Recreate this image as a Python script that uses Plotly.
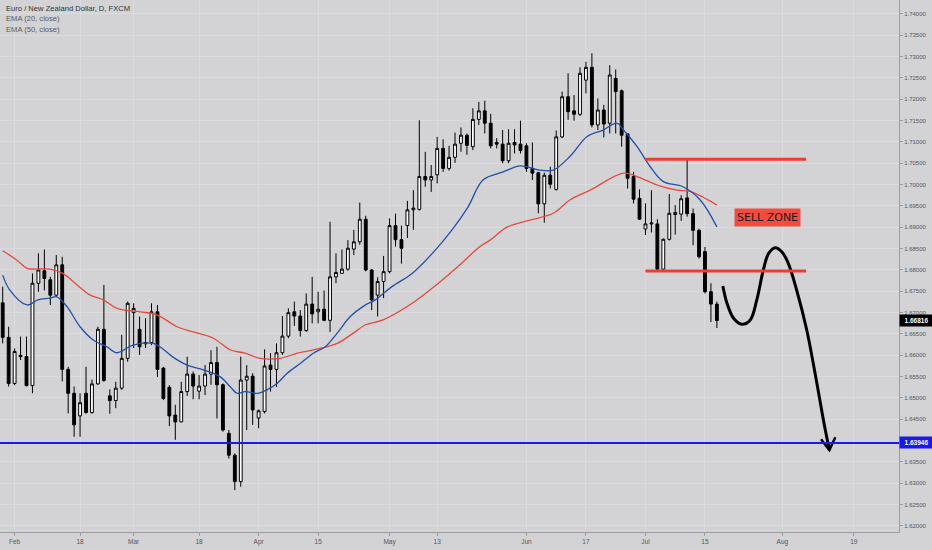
import numpy as np
import pandas as pd
import plotly.graph_objects as go

# ---------------- data ----------------
start_date = "2019-01-30"
open_ = [1.6723,1.6642,1.6534,1.6600,1.6597,1.6529,1.6769,1.6798,1.6777,1.6741,
         1.6812,1.6567,1.6511,1.6458,1.6511,1.6466,1.6533,1.6661,1.6505,1.6494,
         1.6523,1.6593,1.6700,1.6661,1.6627,1.6630,1.6702,1.6570,1.6525,1.6460,
         1.6444,1.6515,1.6556,1.6516,1.6528,1.6556,1.6583,1.6531,1.6417,1.6366,
         1.6304,1.6542,1.6551,1.6453,1.6468,1.6577,1.6567,1.6606,1.6645,1.6702,
         1.6692,1.6658,1.6720,1.6702,1.6708,1.6682,1.6784,1.6792,1.6802,1.6849,
         1.6866,1.6919,1.6800,1.6741,1.6773,1.6796,1.6904,1.6871,1.6904,1.6941,
         1.6942,1.7019,1.7011,1.7023,1.7085,1.7038,1.7064,1.7097,1.7116,1.7089,
         1.7153,1.7173,1.7144,1.7099,1.7095,1.7056,1.7099,1.7095,1.7091,1.7038,
         1.7028,1.6955,1.7022,1.6989,1.7112,1.7206,1.7173,1.7165,1.7245,1.7275,
         1.7140,1.7175,1.7144,1.7249,1.7220,1.7119,1.7019,1.6968,1.6896,1.6908,
         1.6908,1.6802,1.6872,1.6930,1.6931,1.6969,1.6932,1.6893,1.6843,1.6749,
         1.6720]
high_ = [1.6761,1.6667,1.6616,1.6644,1.6644,1.6792,1.6839,1.6848,1.6784,1.6835,
         1.6831,1.6573,1.6527,1.6511,1.6573,1.6543,1.6667,1.6765,1.6520,1.6538,
         1.6648,1.6726,1.6722,1.6691,1.6687,1.6722,1.6718,1.6573,1.6530,1.6484,
         1.6538,1.6597,1.6562,1.6554,1.6577,1.6612,1.6620,1.6534,1.6425,1.6370,
         1.6597,1.6577,1.6558,1.6473,1.6614,1.6605,1.6628,1.6692,1.6710,1.6726,
         1.6706,1.6745,1.6784,1.6749,1.6752,1.6913,1.6839,1.6848,1.6870,1.6894,
         1.6958,1.6927,1.6802,1.6783,1.6833,1.6921,1.6932,1.6904,1.6962,1.6987,
         1.7151,1.7077,1.7046,1.7112,1.7106,1.7091,1.7122,1.7134,1.7120,1.7179,
         1.7194,1.7197,1.7166,1.7109,1.7128,1.7130,1.7130,1.7150,1.7097,1.7099,
         1.7030,1.7028,1.7042,1.7127,1.7218,1.7261,1.7210,1.7275,1.7288,1.7308,
         1.7202,1.7187,1.7280,1.7270,1.7223,1.7120,1.7030,1.6989,1.6956,1.6987,
         1.6919,1.6874,1.6978,1.6952,1.6975,1.7061,1.6944,1.6897,1.6854,1.6769,
         1.6726]
low_ = [1.6628,1.6527,1.6530,1.6589,1.6527,1.6511,1.6749,1.6752,1.6718,1.6737,
        1.6539,1.6464,1.6409,1.6409,1.6463,1.6463,1.6531,1.6538,1.6463,1.6476,
        1.6519,1.6585,1.6617,1.6601,1.6617,1.6624,1.6549,1.6495,1.6434,1.6402,
        1.6443,1.6505,1.6497,1.6497,1.6507,1.6531,1.6452,1.6421,1.6358,1.6284,
        1.6292,1.6425,1.6437,1.6429,1.6464,1.6515,1.6526,1.6601,1.6640,1.6669,
        1.6644,1.6655,1.6675,1.6675,1.6680,1.6655,1.6769,1.6791,1.6798,1.6835,
        1.6859,1.6797,1.6706,1.6691,1.6734,1.6792,1.6855,1.6815,1.6875,1.6894,
        1.6939,1.6995,1.6983,1.7003,1.7030,1.7033,1.7051,1.7077,1.7070,1.7081,
        1.7140,1.7120,1.7085,1.7085,1.7050,1.7050,1.7073,1.7073,1.7030,1.7011,
        1.6933,1.6911,1.6991,1.6986,1.7109,1.7152,1.7150,1.7161,1.7214,1.7134,
        1.7128,1.7111,1.7120,1.7120,1.7089,1.6991,1.6956,1.6917,1.6882,1.6888,
        1.6800,1.6796,1.6869,1.6883,1.6915,1.6925,1.6858,1.6827,1.6745,1.6678,
        1.6664]
close_ = [1.6642,1.6534,1.6609,1.6597,1.6529,1.6769,1.6800,1.6780,1.6741,1.6812,
          1.6567,1.6511,1.6437,1.6489,1.6466,1.6533,1.6661,1.6541,1.6494,1.6523,
          1.6593,1.6722,1.6710,1.6620,1.6630,1.6702,1.6567,1.6499,1.6458,1.6444,
          1.6515,1.6556,1.6528,1.6528,1.6556,1.6583,1.6531,1.6425,1.6366,1.6304,
          1.6542,1.6551,1.6472,1.6470,1.6575,1.6567,1.6606,1.6645,1.6700,1.6692,
          1.6658,1.6720,1.6697,1.6708,1.6682,1.6784,1.6794,1.6802,1.6851,1.6866,
          1.6919,1.6800,1.6730,1.6773,1.6796,1.6904,1.6871,1.6851,1.6941,1.6945,
          1.7019,1.7011,1.7019,1.7085,1.7038,1.7064,1.7095,1.7116,1.7092,1.7153,
          1.7173,1.7144,1.7091,1.7095,1.7056,1.7097,1.7093,1.7080,1.7038,1.7027,
          1.6955,1.7022,1.7001,1.7112,1.7206,1.7171,1.7165,1.7261,1.7275,1.7140,
          1.7175,1.7142,1.7257,1.7218,1.7116,1.7015,1.6966,1.6919,1.6908,1.6910,
          1.6802,1.6872,1.6933,1.6935,1.6967,1.6932,1.6893,1.6831,1.6749,1.6720,
          1.66816]

# EMA lines (trading-day number since start_date, value)
ema20_day = [0,1.2,4.1,5.9,7.9,9.1,10.8,13,15.2,17.5,19.2,21.9,25.3,26.8,28.5,31,33.7,36.5,38.2,39.4,
             40.7,42.9,44.4,46.1,47.8,50,52.2,54.2,56.2,58.4,60.7,62.6,65.4,68.8,72.2,75.5,78.2,80.7,84.1,86.9,
             88.3,90.3,92.5,95.3,98.2,100.9,103.2,104.3,106.6,108.8,111,114.3,117.2,120]
ema20_val = [1.6788,1.6753,1.6718,1.6730,1.6734,1.6737,1.6714,1.6667,1.6636,1.6620,
             1.6606,1.6624,1.6628,1.6616,1.6597,1.6577,1.6566,1.6550,1.6527,1.6511,
             1.6515,1.6511,1.6519,1.6534,1.6558,1.6581,1.6605,1.6620,1.6652,1.6691,
             1.6716,1.6730,1.6761,1.6792,1.6839,1.6894,1.6948,1.7011,1.7030,1.7044,
             1.7041,1.7034,1.7034,1.7066,1.7113,1.7128,1.7144,1.7128,1.7089,1.7042,
             1.7007,1.6995,1.6964,1.6901]
ema50_day = [0,2.4,4.1,7.9,10.1,12.5,14.7,16.9,19.2,23.1,25.9,29.3,32,35.4,38.2,40.7,43.2,46.6,49.5,53.3,
             56.2,58.9,60.9,63.9,68.8,73.2,76.5,80.2,81.9,84.8,88.6,92.5,95.3,98.7,104.3,106.6,110,113.3,115.5,120]
ema50_val = [1.6845,1.6823,1.6804,1.6802,1.6792,1.6765,1.6741,1.6730,1.6710,1.6702,
             1.6695,1.6667,1.6655,1.6640,1.6613,1.6605,1.6593,1.6593,1.6605,1.6616,
             1.6628,1.6652,1.6671,1.6683,1.6722,1.6769,1.6808,1.6855,1.6870,1.6901,
             1.6917,1.6933,1.6964,1.6987,1.7027,1.7019,1.6999,1.6987,1.6984,1.6952]

tick_dates = ["2019-02-01","2019-02-18","2019-03-01","2019-03-18","2019-04-01","2019-04-15",
              "2019-05-01","2019-05-13","2019-06-03","2019-06-17","2019-07-01","2019-07-15",
              "2019-08-01","2019-08-19"]
tick_labels = ["Feb","18","Mar","18","Apr","15","May","13","Jun","17","Jul","15","Aug","19"]
price_ticks = [1.620,1.625,1.630,1.635,1.645,1.650,1.655,1.660,1.665,1.670,1.675,1.680,
               1.685,1.690,1.695,1.700,1.705,1.710,1.715,1.720,1.725,1.730,1.735,1.740]

support_level = 1.63946
last_price = 1.66816
zone_top = 1.70597
zone_bottom = 1.67977
zone_start, zone_end = "2019-07-01", "2019-08-07"
sell_label_days = ("2019-07-29", "2019-07-30")
sell_label_price = 1.6922

# hand-drawn projection (trading-day number, price)
path_day = [121.0,121.7,122.8,124.2,125.6,126.7,127.8,128.7,129.8,130.9,132.0,133.4,135.1,136.8,138.0,138.9]
path_val = [1.67625,1.67220,1.66868,1.66727,1.66828,1.67297,1.68000,1.68391,1.68523,1.68429,
            1.68157,1.67531,1.66594,1.65345,1.64407,1.63781]
head_day = [137.5,138.9,139.9]
head_val = [1.64032,1.63781,1.64079]

# ---------------- figure ----------------
def day(d):
    return int(np.busday_count(start_date, d))

dates = pd.bdate_range(start_date, periods=len(close_))
xi = np.arange(len(dates))

BG = "#d3d3d5"
GRID = "#dcdcde"
AX = "#9c9c9e"

fig = go.Figure()
fig.add_trace(go.Candlestick(
    x=xi, open=open_, high=high_, low=low_, close=close_,
    increasing=dict(fillcolor="#ffffff", line=dict(color="#000000", width=1)),
    decreasing=dict(fillcolor="#000000", line=dict(color="#000000", width=1)),
    whiskerwidth=0, hoverinfo="skip"))
fig.add_trace(go.Scatter(x=ema50_day, y=ema50_val, mode="lines", line_shape="spline",
                         line=dict(color="#e8493c", width=1.3), hoverinfo="skip"))
fig.add_trace(go.Scatter(x=ema20_day, y=ema20_val, mode="lines", line_shape="spline",
                         line=dict(color="#2350a8", width=1.3), hoverinfo="skip"))
fig.add_trace(go.Scatter(x=path_day, y=path_val, mode="lines", line_shape="spline",
                         line=dict(color="#000000", width=3), hoverinfo="skip"))
fig.add_trace(go.Scatter(x=head_day, y=head_val, mode="lines",
                         line=dict(color="#000000", width=2.5), hoverinfo="skip"))

shapes = [
    dict(type="line", xref="paper", x0=0, x1=1, yref="y", y0=support_level, y1=support_level,
         line=dict(color="#1a1ae8", width=2)),
    dict(type="line", xref="x", x0=day(zone_start), x1=day(zone_end), yref="y",
         y0=zone_top, y1=zone_top, line=dict(color="#f03a32", width=3)),
    dict(type="line", xref="x", x0=day(zone_start), x1=day(zone_end), yref="y",
         y0=zone_bottom, y1=zone_bottom, line=dict(color="#f03a32", width=3)),
]

font_main = "Liberation Sans"
annotations = [
    dict(xref="paper", yref="paper", x=0.004, y=0.997, xanchor="left", yanchor="top",
         text="Euro / New Zealand Dollar, D, FXCM", showarrow=False,
         font=dict(family=font_main, size=7.6, color="#333333")),
    dict(xref="paper", yref="paper", x=0.004, y=0.977, xanchor="left", yanchor="top",
         text="EMA (20, close)", showarrow=False,
         font=dict(family=font_main, size=7.6, color="#5a5a5a")),
    dict(xref="paper", yref="paper", x=0.004, y=0.957, xanchor="left", yanchor="top",
         text="EMA (50, close)", showarrow=False,
         font=dict(family=font_main, size=7.6, color="#5a5a5a")),
    dict(xref="x", yref="y", x=(day(sell_label_days[0]) + day(sell_label_days[1])) / 2,
         y=sell_label_price, text="SELL ZONE", showarrow=False, bgcolor="#f24b40", borderpad=2,
         font=dict(family="DejaVu Sans", size=11, color="#1a1a1a")),
    dict(xref="paper", yref="y", x=1.0, y=last_price, xanchor="left", yanchor="middle",
         text="<b>%.5f</b>" % last_price, showarrow=False, bgcolor="#000000", borderpad=2,
         width=29, font=dict(family=font_main, size=6.5, color="#ffffff")),
    dict(xref="paper", yref="y", x=1.0, y=support_level, xanchor="left", yanchor="middle",
         text="<b>%.5f</b>" % support_level, showarrow=False, bgcolor="#1a1ae8", borderpad=2,
         width=29, font=dict(family=font_main, size=6.5, color="#ffffff")),
]

fig.update_layout(
    width=932, height=550,
    margin=dict(l=0, r=33, t=0, b=18),
    paper_bgcolor=BG, plot_bgcolor=BG,
    showlegend=False,
    shapes=shapes, annotations=annotations,
    boxgap=0.32,
    xaxis=dict(range=[-0.454, 150.6], rangeslider=dict(visible=False),
               tickmode="array", tickvals=[day(d) for d in tick_dates], ticktext=tick_labels,
               showgrid=True, gridcolor=GRID, gridwidth=1, zeroline=False,
               showline=True, linecolor=AX, linewidth=1, mirror=False,
               ticks="outside", ticklen=3, tickcolor=AX,
               tickfont=dict(family=font_main, size=6.5, color="#555555")),
    yaxis=dict(side="right", range=[1.61859, 1.74328],
               tickmode="array", tickvals=price_ticks,
               tickformat=".5f", showgrid=True, gridcolor=GRID, gridwidth=1, zeroline=False,
               showline=True, linecolor=AX, linewidth=1,
               ticks="outside", ticklen=3, tickcolor=AX,
               tickfont=dict(family=font_main, size=6, color="#555555")),
)

fig.write_html("out.html", config={"displayModeBar": False},
               post_script="document.body.style.margin='0';document.body.style.padding='0';"
                           "document.body.style.background='%s';" % BG)
